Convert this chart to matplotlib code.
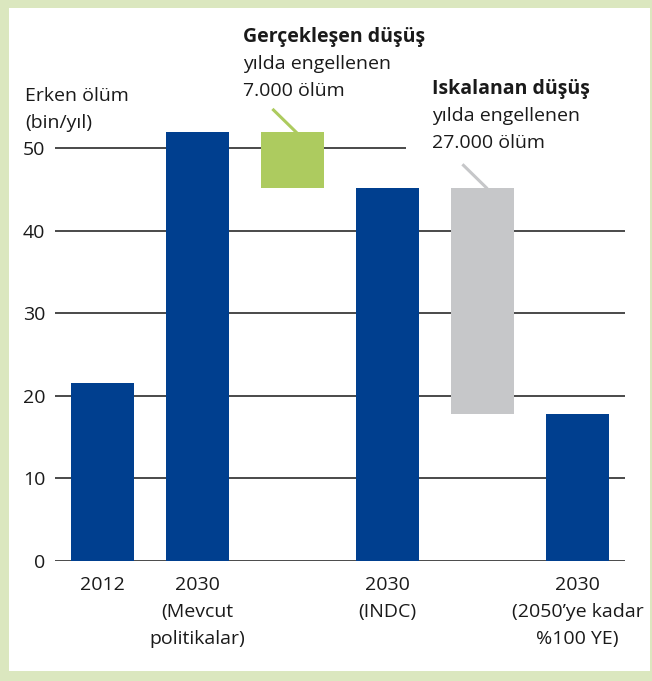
import matplotlib

matplotlib.use("Agg")
import matplotlib.pyplot as plt
from matplotlib.patches import Rectangle
from matplotlib.transforms import blended_transform_factory

plt.rcParams["font.family"] = ["Open Sans", "DejaVu Sans"]

# data (thousand premature deaths per year)
labels = ["2012", "2030\n(Mevcut\npolitikalar)", "", "2030\n(INDC)", "", "2030\n(2050’ye kadar\n%100 YE)"]
totals = [21.5, 51.9, 45.2, 17.8]          # full bars
total_pos = [0, 1, 3, 5]
drop_pos = [2, 4]
drop_top = [51.9, 45.2]                      # floating bars
drop_bottom = [45.2, 17.8]
drop_colors = ["#adcb5f", "#c6c7c9"]
yticks = [0, 10, 20, 30, 40, 50]

BLUE = "#003f8f"
TXT = "#1a1a1a"
W, H = 652, 681
FS = 14
LS = 27  # line step in px


def lines_at(x_px, base_px, text, ha="left", weight="normal"):
    # one text per line so the spacing is exact; base_px = first baseline from top
    for k, line in enumerate(text.split("\n")):
        fig.text(x_px / W, 1 - (base_px + k * LS) / H, line, ha=ha, va="baseline",
                 fontsize=FS, fontweight=weight, color=TXT)


fig = plt.figure(figsize=(6.52, 6.81), dpi=100)
# light green frame
for (x0, y0, w, h) in [(0, 0, 9 / W, 1), (0, 1 - 8 / H, 1, 8 / H),
                       (0, 0, 1, 10 / H), (1 - 2 / W, 0, 2 / W, 1)]:
    fig.patches.append(Rectangle((x0, y0), w, h, transform=fig.transFigure,
                                 facecolor="#dbe7bf", edgecolor="none"))

ax = fig.add_axes([55 / W, 120 / H, 570 / W, 52 * 8.26 / H])
ax.set_xlim(-0.5, 5.5)
ax.set_ylim(0, 52)
for s in ax.spines.values():
    s.set_visible(False)

# gridlines (50 line stops before the right-hand note)
for t in yticks:
    right = 3.2 if t == 50 else 5.5
    ax.hlines(t, -0.5, right, color="#2b2b2b", linewidth=1.2, zorder=1)

ax.bar(total_pos, totals, width=0.66, color=BLUE, zorder=2)
ax.bar(drop_pos, [t - b for t, b in zip(drop_top, drop_bottom)], bottom=drop_bottom,
       width=0.66, color=drop_colors, zorder=2)

ax.set_yticks(yticks)
ax.set_yticklabels([str(t) for t in yticks])
ax.tick_params(axis="y", length=0, pad=7, labelsize=FS, labelcolor=TXT)
ax.set_xticks([])

# category labels under the bars
for i, lab in enumerate(labels):
    if lab:
        xp = ax.transData.transform((i, 0))[0]
        lines_at(xp, 590, lab, ha="center")

# axis title
lines_at(25, 101, "Erken ölüm\n(bin/yıl)")

# notes with leader lines
notes = [("Gerçekleşen düşüş", "yılda engellenen\n7.000 ölüm", 243, 42),
         ("Iskalanan düşüş", "yılda engellenen\n27.000 ölüm", 432, 94)]
for (head, body, px, py), p, top, c in zip(notes, drop_pos, drop_top, drop_colors):
    lines_at(px, py, head, weight="bold")
    lines_at(px, py + LS, body)
    ax.plot([p - 0.2, p + 0.04], [top + 2.7, top], color=c, linewidth=2.2,
            clip_on=False, zorder=3)

fig.savefig("out.png", dpi=100)
